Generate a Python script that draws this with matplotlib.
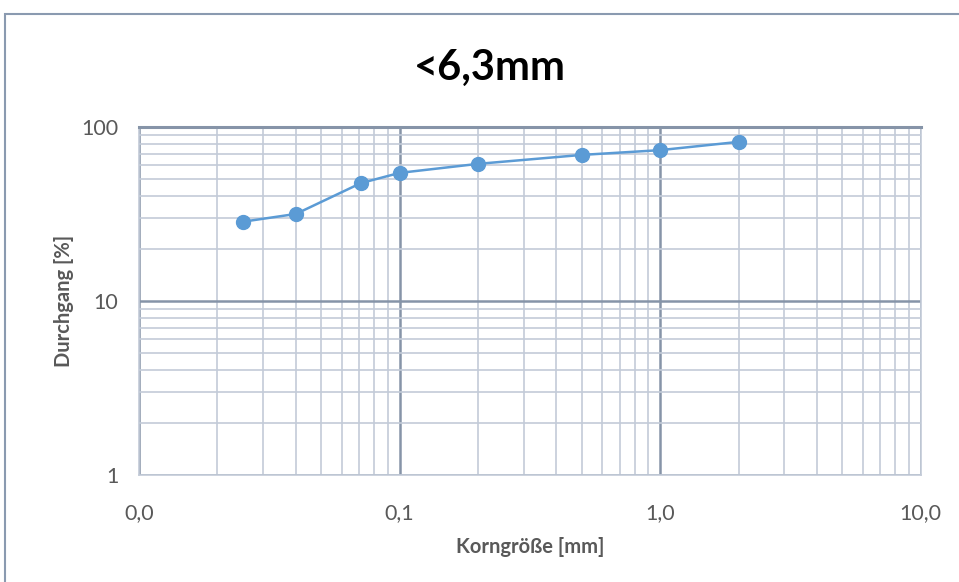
import numpy as np
import matplotlib.pyplot as plt
from matplotlib.patches import Rectangle
from matplotlib.ticker import FixedLocator, FuncFormatter, LogLocator, NullFormatter

plt.rcParams['font.family'] = ['Lato', 'DejaVu Sans']

# Daten
korngroesse = [0.025, 0.04, 0.071, 0.1, 0.2, 0.5, 1.0, 2.0]
durchgang = [28.5, 31.6, 47.5, 54.4, 61.3, 69.0, 73.5, 82.0]
x_ticks = [0.01, 0.1, 1, 10]
y_ticks = [1, 10, 100]

fig = plt.figure(figsize=(9.59, 5.82), dpi=100)
ax = fig.add_axes([0.145, 0.184, 0.815, 0.598])

# Rahmen um das Diagramm
fig.patches.append(Rectangle((5/959, -0.1), 1.2, 1 - 14/582 + 0.1, transform=fig.transFigure,
                             fill=False, edgecolor='#8a9ab0', linewidth=1.5))

ax.plot(korngroesse, durchgang, '-o', color='#5b9bd5', linewidth=1.8,
        markersize=10, zorder=3)

ax.set_xscale('log')
ax.set_yscale('log')
ax.set_xlim(0.01, 10)
ax.set_ylim(1, 100)

ax.xaxis.set_major_locator(FixedLocator(x_ticks))
ax.yaxis.set_major_locator(FixedLocator(y_ticks))
ax.xaxis.set_minor_locator(LogLocator(base=10, subs=np.arange(2, 10)))
ax.yaxis.set_minor_locator(LogLocator(base=10, subs=np.arange(2, 10)))
ax.xaxis.set_minor_formatter(NullFormatter())
ax.yaxis.set_minor_formatter(NullFormatter())
ax.xaxis.set_major_formatter(FuncFormatter(lambda v, p: ('%.1f' % v).replace('.', ',') if v >= 0.1 else '0,0'))
ax.yaxis.set_major_formatter(FuncFormatter(lambda v, p: '%d' % v))

ax.grid(True, which='minor', color='#c3cbd8', linewidth=1.2)
ax.grid(True, which='major', color='#8694a8', linewidth=1.8)
ax.tick_params(which='both', length=0)
ax.tick_params(axis='x', pad=20, labelsize=15.5, labelcolor='#595959')
ax.tick_params(axis='y', pad=15, labelsize=15.5, labelcolor='#595959')

for s in ['left', 'right', 'bottom']:
    ax.spines[s].set_color('#c3cbd8')
    ax.spines[s].set_linewidth(1.2)
ax.spines['top'].set_color('#8694a8')
ax.spines['top'].set_linewidth(2.2)

ax.set_xlabel('Korngröße [mm]', fontsize=14.5, fontweight='bold', color='#595959', labelpad=10)
ax.set_ylabel('Durchgang [%]', fontsize=14.5, fontweight='bold', color='#595959', labelpad=5)
fig.text(0.511, 0.884, '<6,3mm', ha='center', va='center', fontsize=30, fontweight='bold', color='black')

fig.savefig('out.png', dpi=100)
